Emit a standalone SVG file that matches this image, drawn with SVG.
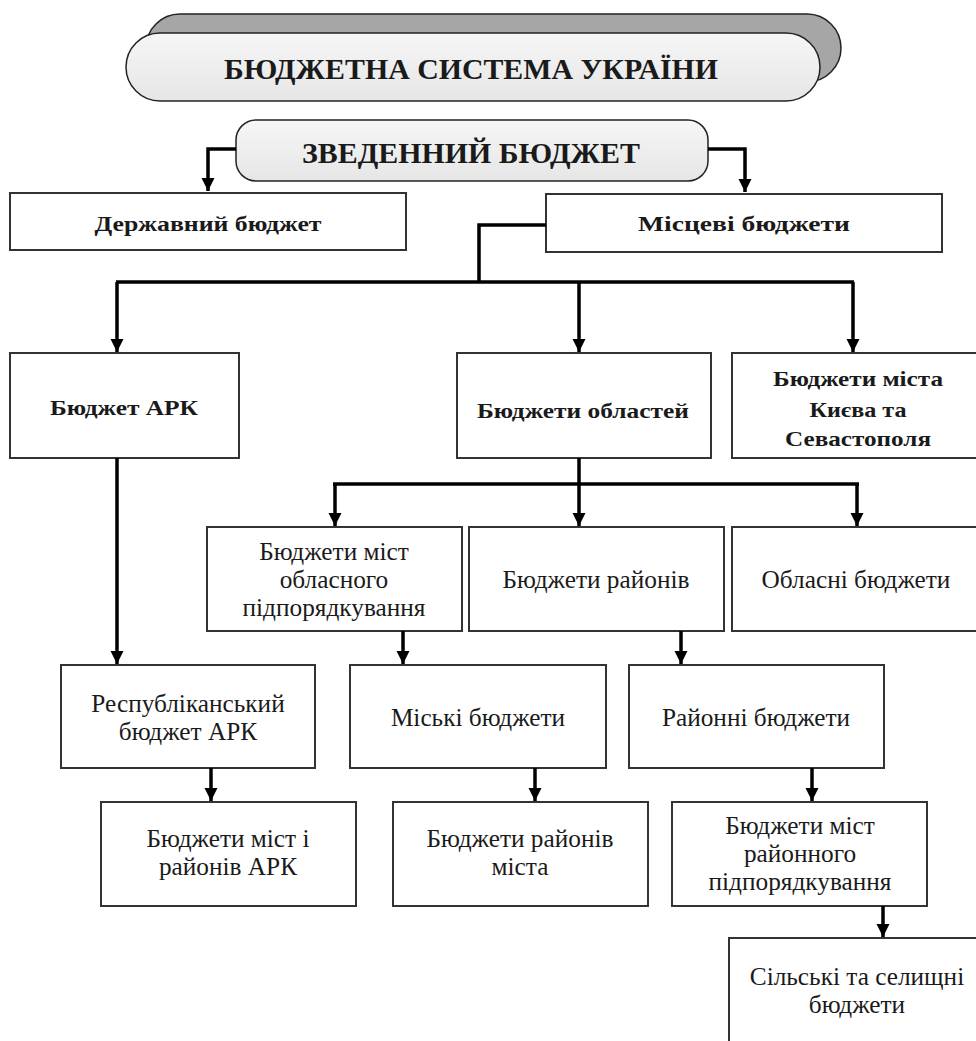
<svg xmlns="http://www.w3.org/2000/svg" width="976" height="1041" viewBox="0 0 976 1041">
<defs>
<marker id="ah" markerUnits="userSpaceOnUse" markerWidth="14" markerHeight="14" refX="13" refY="6.5" orient="auto">
<path d="M0,0 L13,6.5 L0,13 Z" fill="#000"/>
</marker>
<linearGradient id="g1" x1="0" y1="0" x2="0" y2="1">
<stop offset="0" stop-color="#f6f6f6"/><stop offset="1" stop-color="#e6e6e6"/>
</linearGradient>
<style>
.box{fill:#fff;stroke:#333;stroke-width:2}
.t{font-family:"Liberation Serif","Times New Roman",serif;fill:#1a1a1a;text-anchor:middle}
.r{font-size:25.3px}
.b{font-size:22px;font-weight:bold}
.h{font-weight:bold}
.c{fill:none;stroke:#000;stroke-width:3.5}
.ca{fill:none;stroke:#000;stroke-width:3.5;marker-end:url(#ah)}
</style>
</defs>
<rect width="976" height="1041" fill="#fff"/>

<g id="header">
<rect x="146" y="14" width="695" height="68" rx="34" ry="34" fill="#a6a6a6" stroke="#222" stroke-width="1.5"/>
<rect x="126" y="33" width="694" height="68" rx="34" ry="34" fill="url(#g1)" stroke="#222" stroke-width="1.5"/>
<text class="t h" x="471" y="79" font-size="29" textLength="494" lengthAdjust="spacingAndGlyphs">БЮДЖЕТНА СИСТЕМА УКРАЇНИ</text>
</g>

<g id="zvedenyi">
<rect x="236" y="120" width="472" height="61" rx="20" ry="20" fill="url(#g1)" stroke="#222" stroke-width="1.5"/>
<text class="t h" x="471" y="163" font-size="30" textLength="338" lengthAdjust="spacingAndGlyphs">ЗВЕДЕННИЙ БЮДЖЕТ</text>
</g>

<g id="derzhavnyi">
<rect class="box" x="10" y="193" width="396" height="57"/>
<text class="t b" x="208" y="231" textLength="227" lengthAdjust="spacingAndGlyphs">Державний бюджет</text>
</g>

<g id="mistsevi">
<rect class="box" x="546" y="194" width="396" height="58"/>
<text class="t b" x="744" y="231" textLength="212" lengthAdjust="spacingAndGlyphs">Місцеві бюджети</text>
</g>

<g id="ark">
<rect class="box" x="10" y="353" width="229" height="105"/>
<text class="t b" x="124" y="415" textLength="148" lengthAdjust="spacingAndGlyphs">Бюджет АРК</text>
</g>

<g id="oblastei">
<rect class="box" x="457" y="353" width="254" height="105"/>
<text class="t b" x="583" y="418" textLength="212" lengthAdjust="spacingAndGlyphs">Бюджети областей</text>
</g>

<g id="kyiv">
<rect class="box" x="732" y="353" width="255" height="105"/>
<text class="t b" x="858" y="386" textLength="170" lengthAdjust="spacingAndGlyphs">Бюджети міста</text>
<text class="t b" x="858" y="417" textLength="97" lengthAdjust="spacingAndGlyphs">Києва та</text>
<text class="t b" x="858" y="446" textLength="146" lengthAdjust="spacingAndGlyphs">Севастополя</text>
</g>

<g id="mist-oblasnoho">
<rect class="box" x="207" y="527" width="255" height="104"/>
<text class="t r" x="334" y="560">Бюджети міст</text>
<text class="t r" x="334" y="588">обласного</text>
<text class="t r" x="334" y="616">підпорядкування</text>
</g>

<g id="raioniv">
<rect class="box" x="469" y="527" width="255" height="104"/>
<text class="t r" x="596" y="588">Бюджети районів</text>
</g>

<g id="oblasni">
<rect class="box" x="732" y="527" width="255" height="104"/>
<text class="t r" x="856" y="588">Обласні бюджети</text>
</g>

<g id="respublikanskyi">
<rect class="box" x="61" y="665" width="254" height="103"/>
<text class="t r" x="188" y="712">Республіканський</text>
<text class="t r" x="188" y="740">бюджет АРК</text>
</g>

<g id="miski">
<rect class="box" x="350" y="665" width="256" height="103"/>
<text class="t r" x="478" y="726">Міські бюджети</text>
</g>

<g id="raionni">
<rect class="box" x="629" y="665" width="255" height="103"/>
<text class="t r" x="756" y="726">Районні бюджети</text>
</g>

<g id="mist-raioniv-ark">
<rect class="box" x="101" y="802" width="255" height="104"/>
<text class="t r" x="228" y="847">Бюджети міст і</text>
<text class="t r" x="228" y="875">районів АРК</text>
</g>

<g id="raioniv-mista">
<rect class="box" x="393" y="802" width="255" height="104"/>
<text class="t r" x="520" y="847">Бюджети районів</text>
<text class="t r" x="520" y="875">міста</text>
</g>

<g id="mist-raionnoho">
<rect class="box" x="672" y="802" width="255" height="104"/>
<text class="t r" x="800" y="834">Бюджети міст</text>
<text class="t r" x="800" y="862">районного</text>
<text class="t r" x="800" y="890">підпорядкування</text>
</g>

<g id="silski">
<rect class="box" x="729" y="938" width="260" height="110"/>
<text class="t r" x="857" y="985">Сільські та селищні</text>
<text class="t r" x="857" y="1013">бюджети</text>
</g>

<g id="connectors">
<path class="ca" d="M236,149 H208 V191"/>
<path class="ca" d="M708,149 H745 V192"/>
<path class="c" d="M546,225 H479 V282"/>
<path class="c" d="M116,282 H854"/>
<path class="ca" d="M117,282 V352"/>
<path class="ca" d="M579,282 V352"/>
<path class="ca" d="M853,282 V352"/>
<path class="ca" d="M117,458 V664"/>
<path class="c" d="M579,458 V484"/>
<path class="c" d="M333,484 H859"/>
<path class="ca" d="M335,484 V526"/>
<path class="ca" d="M579,484 V526"/>
<path class="ca" d="M857,484 V526"/>
<path class="ca" d="M403,631 V664"/>
<path class="ca" d="M681,631 V664"/>
<path class="ca" d="M211,768 V801"/>
<path class="ca" d="M535,768 V801"/>
<path class="ca" d="M812,768 V801"/>
<path class="ca" d="M883,906 V937"/>
</g>
</svg>
